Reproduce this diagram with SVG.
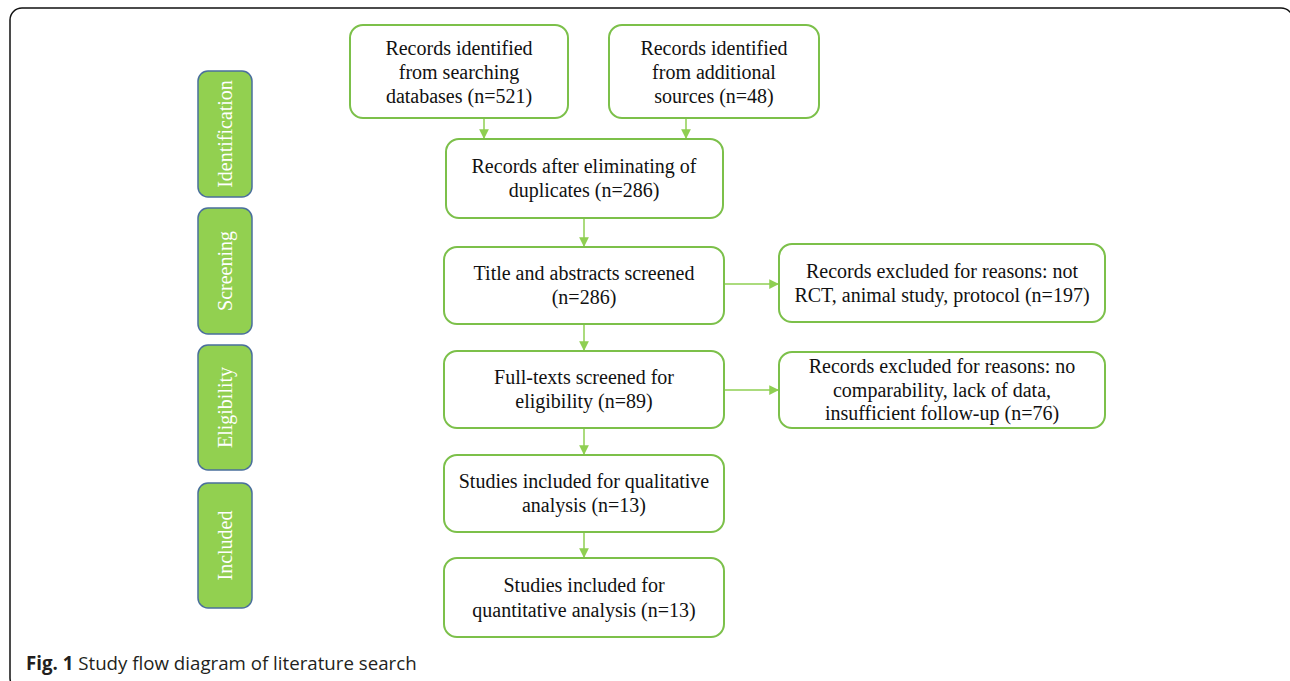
<svg xmlns="http://www.w3.org/2000/svg" width="1290" height="681" viewBox="0 0 1290 681">
<defs>
<style>
.box{fill:#fff;stroke:#7cc04a;stroke-width:2}
.side{fill:#92d050;stroke:#4a6f9c;stroke-width:1.5}
.t{font-family:"Liberation Serif","Times New Roman",serif;font-size:20px;fill:#111;text-anchor:middle}
.st{font-family:"Liberation Serif","Times New Roman",serif;font-size:20px;fill:#fff;text-anchor:middle}
.c{stroke:#8fcf52;stroke-width:1.5;fill:none;marker-end:url(#ah)}
.cap{font-family:"Open Sans","Noto Sans",sans-serif;font-size:18.7px;fill:#231f20}
</style>
<marker id="ah" viewBox="0 0 10 10" refX="10" refY="5" markerWidth="6.5" markerHeight="6.5" markerUnits="strokeWidth" orient="auto">
<path d="M0,0 L10,5 L0,10 z" fill="#8fcf52"/>
</marker>
</defs>
<rect width="1290" height="681" fill="#fff"/>
<rect x="10" y="8" width="1283" height="682" rx="12" fill="none" stroke="#111" stroke-width="1.5"/>

<g id="side-identification"><rect class="side" x="198" y="71" width="54" height="126" rx="10"/><text class="st" transform="translate(232,134) rotate(-90)">Identification</text></g>
<g id="side-screening"><rect class="side" x="198" y="208" width="54" height="126" rx="10"/><text class="st" transform="translate(232,271) rotate(-90)">Screening</text></g>
<g id="side-eligibility"><rect class="side" x="198" y="345" width="54" height="125" rx="10"/><text class="st" transform="translate(232,407.5) rotate(-90)">Eligibility</text></g>
<g id="side-included"><rect class="side" x="198" y="483" width="54" height="125" rx="10"/><text class="st" transform="translate(232,545.5) rotate(-90)">Included</text></g>

<g id="connectors">
<line class="c" x1="484" y1="118" x2="484" y2="139"/>
<line class="c" x1="686" y1="118" x2="686" y2="139"/>
<line class="c" x1="584" y1="218" x2="584" y2="247"/>
<line class="c" x1="724" y1="284" x2="779" y2="284"/>
<line class="c" x1="584" y1="324" x2="584" y2="351"/>
<line class="c" x1="724" y1="390" x2="779" y2="390"/>
<line class="c" x1="584" y1="428" x2="584" y2="455"/>
<line class="c" x1="584" y1="532" x2="584" y2="558"/>
</g>

<g id="n-databases"><rect class="box" x="350" y="25" width="218" height="93" rx="13"/>
<text class="t"><tspan x="459" y="55">Records identified</tspan><tspan x="459" y="79">from searching</tspan><tspan x="459" y="103">databases (n=521)</tspan></text></g>
<g id="n-additional"><rect class="box" x="609" y="25" width="210" height="93" rx="13"/>
<text class="t"><tspan x="714" y="55">Records identified</tspan><tspan x="714" y="79">from additional</tspan><tspan x="714" y="103">sources (n=48)</tspan></text></g>
<g id="n-duplicates"><rect class="box" x="446" y="139" width="277" height="79" rx="13"/>
<text class="t"><tspan x="584" y="173">Records after eliminating of</tspan><tspan x="584" y="197">duplicates (n=286)</tspan></text></g>
<g id="n-title"><rect class="box" x="444" y="247" width="280" height="77" rx="13"/>
<text class="t"><tspan x="584" y="280">Title and abstracts screened</tspan><tspan x="584" y="304">(n=286)</tspan></text></g>
<g id="n-excl1"><rect class="box" x="779" y="244" width="326" height="78" rx="13"/>
<text class="t"><tspan x="942" y="278">Records excluded for reasons: not</tspan><tspan x="942" y="302">RCT, animal study, protocol (n=197)</tspan></text></g>
<g id="n-fulltext"><rect class="box" x="444" y="351" width="280" height="77" rx="13"/>
<text class="t"><tspan x="584" y="384">Full-texts screened for</tspan><tspan x="584" y="408">eligibility (n=89)</tspan></text></g>
<g id="n-excl2"><rect class="box" x="779" y="352" width="326" height="76" rx="13"/>
<text class="t"><tspan x="942" y="373">Records excluded for reasons: no</tspan><tspan x="942" y="397">comparability, lack of data,</tspan><tspan x="942" y="420">insufficient follow-up (n=76)</tspan></text></g>
<g id="n-qualitative"><rect class="box" x="444" y="455" width="280" height="77" rx="13"/>
<text class="t"><tspan x="584" y="488">Studies included for qualitative</tspan><tspan x="584" y="512">analysis  (n=13)</tspan></text></g>
<g id="n-quantitative"><rect class="box" x="444" y="558" width="280" height="79" rx="13"/>
<text class="t"><tspan x="584" y="592">Studies included for</tspan><tspan x="584" y="617">quantitative analysis  (n=13)</tspan></text></g>

<text class="cap" x="26" y="670" xml:space="preserve"><tspan font-weight="bold">Fig. 1</tspan> Study flow diagram of literature search</text>
</svg>
